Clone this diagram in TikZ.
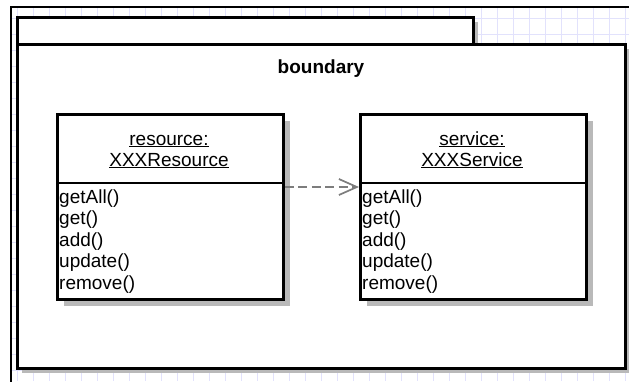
\documentclass[tikz,border=0pt]{standalone}
\usepackage{fontspec}
\setmainfont{Liberation Sans}
\usetikzlibrary{arrows.meta,shadows}
\definecolor{gridc}{RGB}{226,226,252}
\definecolor{shadowc}{RGB}{185,185,185}
\definecolor{depc}{RGB}{125,125,125}
\begin{document}
\begin{tikzpicture}[x=1pt,y=-1pt,
  font=\fontsize{19pt}{21.5pt}\selectfont,
  gridline/.style={gridc, line width=0.7pt},
  frameline/.style={black, line width=2.4pt},
  pkgbox/.style={draw=black, line width=2.8pt, fill=white, inner sep=0pt, anchor=north west,
    drop shadow={shadow xshift=5pt, shadow yshift=-5pt, fill=shadowc, opacity=1}},
  classbox/.style={draw=black, line width=2.8pt, fill=white, inner sep=0pt, anchor=north west,
    minimum width=226pt, minimum height=185pt,
    drop shadow={shadow xshift=7pt, shadow yshift=-7pt, fill=shadowc, opacity=1}},
  boxline/.style={black, line width=2.8pt},
  hdr/.style={anchor=base, inner sep=0pt},
  method/.style={anchor=base west, inner sep=0pt},
  dep/.style={depc, line width=2pt, dash pattern=on 9pt off 4.5pt,
    -{Straight Barb[length=18pt, width=16pt, line width=1.7pt]}}
]
\useasboundingbox (0,0) rectangle (629,381);
\fill[white] (0,0) rectangle (629,381);
% background grid
\begin{scope}
  \clip (11,7) rectangle (629,381);
  \foreach \gx in {17,33,...,625} \draw[gridline] (\gx,7) -- (\gx,381);
  \foreach \gy in {18,34,...,378} \draw[gridline] (11,\gy) -- (629,\gy);
\end{scope}
% window frame
\draw[frameline] (11,382) -- (11,7) -- (630,7);
% package
\node[pkgbox, minimum width=456pt, minimum height=27pt] (tab) at (16,16) {};
\node[pkgbox, minimum width=608pt, minimum height=324pt] (pkg) at (16,43) {};
\node[font=\fontsize{19pt}{21.5pt}\selectfont\bfseries, anchor=base, inner sep=0pt] (blabel) at (321,73) {boundary};
% class boxes
\node[classbox] (res) at (56,113) {};
\node[classbox] (svc) at (359,113) {};
\coordinate (resdiv) at (56,183);
\coordinate (svcdiv) at (359,183);
\draw[boxline] (resdiv) -- (resdiv -| res.east);
\draw[boxline] (svcdiv) -- (svcdiv -| svc.east);
% headers
\node[hdr] (resname) at (169,145) {\underline{resource:}};
\node[hdr] (restype) at (169,166) {\underline{XXXResource}};
\node[hdr] (svcname) at (472,145) {\underline{service:}};
\node[hdr] (svctype) at (472,166) {\underline{XXXService}};
% methods
\node[method] (r1) at (59,203) {getAll()};
\node[method] (r2) at (59,224.5) {get()};
\node[method] (r3) at (59,246) {add()};
\node[method] (r4) at (59,267.5) {update()};
\node[method] (r5) at (59,289) {remove()};
\node[method] (s1) at (362,203) {getAll()};
\node[method] (s2) at (362,224.5) {get()};
\node[method] (s3) at (362,246) {add()};
\node[method] (s4) at (362,267.5) {update()};
\node[method] (s5) at (362,289) {remove()};
% dependency
\coordinate (arrowy) at (0,187);
\draw[dep] (res.east |- arrowy) -- (svc.west |- arrowy);
\end{tikzpicture}
\end{document}
